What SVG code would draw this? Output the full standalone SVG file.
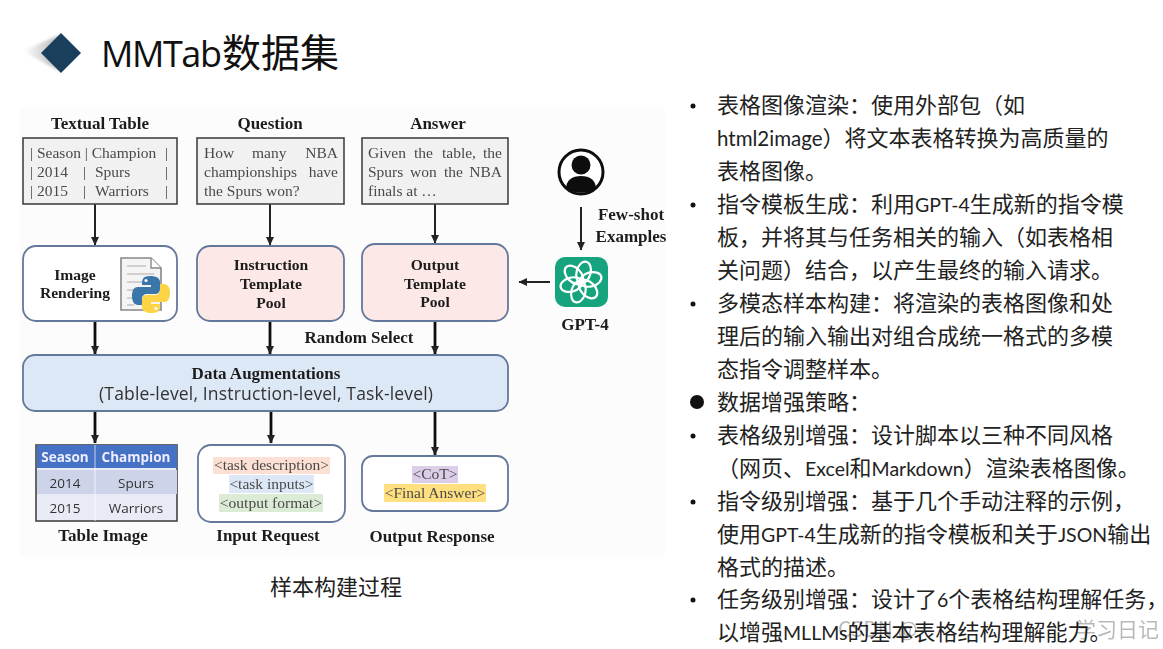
<svg xmlns="http://www.w3.org/2000/svg" width="1163" height="649" viewBox="0 0 1163 649">
<style>
.s{font-family:"Liberation Serif","Noto Sans CJK SC",serif;font-size:15.5px;fill:#4a4a4a}
.b{font-family:"Liberation Serif","Noto Sans CJK SC",serif;font-size:17px;font-weight:700;fill:#1c1c1c;text-anchor:middle}
.n{font-size:15.6px}
.m{font-family:"Noto Sans CJK SC","Noto Sans",sans-serif;fill:#222;font-size:22px}
.l{font-family:"Lato","Noto Sans",sans-serif;font-size:19.5px}
.box{fill:#f1f1f1;stroke:#444;stroke-width:1.6}
.rr{stroke:#64789a;stroke-width:1.8}
.c{stroke:#222;stroke-width:2;fill:none;marker-end:url(#a)}
.h{stroke:#111;stroke-width:2.8;fill:none;marker-end:url(#a)}
.t{text-anchor:middle;font-family:"Open Sans","Liberation Sans",sans-serif;font-size:13.5px}
.bu{fill:#111}
</style>
<defs>
<marker id="a" markerUnits="userSpaceOnUse" markerWidth="10" markerHeight="9" refX="8" refY="4.500" orient="auto"><path d="M0 0.5L8.500 4.500L0 8.500z" fill="#222"/></marker>
<linearGradient id="sh" x1="1" y1="0" x2="0" y2="0"><stop offset="0.2" stop-color="#c4c4c4"/><stop offset="1" stop-color="#fff"/></linearGradient>
<filter id="soft" x="0" y="0" width="100%" height="100%"><feGaussianBlur stdDeviation="0.45"/></filter>
<filter id="soft2" x="-20%" y="-20%" width="140%" height="140%"><feGaussianBlur stdDeviation="1.5"/></filter>
</defs>
<rect width="1163" height="649" fill="#fff"/>
<g id="title">
<polygon points="59,35 59,71 23,51" fill="url(#sh)" filter="url(#soft2)"/>
<polygon points="61,33 81,53 61,73 41,53" fill="#1a3f5c"/>
<text x="101" y="67" textLength="121" font-family="'Open Sans','Noto Sans CJK SC',sans-serif" font-size="36" fill="#111">MMTab</text>
<text x="222" y="67" font-family="'Noto Sans CJK SC',sans-serif" font-size="39" fill="#111">数据集</text>
</g>
<g id="figure" filter="url(#soft)">
<rect x="20" y="107" width="645" height="449" fill="#fcfcfc"/>
<g id="connectors">
<path class="c" d="M95 204V245"/><path class="c" d="M270 204V245"/><path class="c" d="M435 204V243"/>
<path class="h" d="M95 321V354"/><path class="h" d="M270 321V354"/><path class="h" d="M435 321V354"/>
<path class="h" d="M95 411V443"/><path class="h" d="M271 411V443"/><path class="h" d="M435 411V455"/>
<path class="c" d="M581 207V250"/><path class="c" d="M550 282H519"/>
</g>
<g id="textual-table">
<text class="b" x="100" y="129">Textual Table</text>
<rect class="box" x="23" y="138" width="154" height="66"/>
<text class="s" x="30" y="158">| Season | Champion</text><text class="s" x="165" y="158">|</text>
<text class="s" x="30" y="177">| 2014</text><text class="s" x="83" y="177">|</text><text class="s" x="95" y="177">Spurs</text><text class="s" x="165" y="177">|</text>
<text class="s" x="30" y="196">| 2015</text><text class="s" x="83" y="196">|</text><text class="s" x="95" y="196">Warriors</text><text class="s" x="165" y="196">|</text>
</g>
<g id="question">
<text class="b" x="270" y="129">Question</text>
<rect class="box" x="197" y="138" width="147" height="66"/>
<text class="s" x="204" y="158">How</text><text class="s" x="252" y="158">many</text><text class="s" x="338" y="158" text-anchor="end">NBA</text>
<text class="s" x="204" y="177">championships</text><text class="s" x="338" y="177" text-anchor="end">have</text>
<text class="s" x="204" y="196">the Spurs won?</text>
</g>
<g id="answer">
<text class="b" x="438" y="129">Answer</text>
<rect class="box" x="362" y="138" width="146" height="66"/>
<text class="s" x="368" y="158">Given</text><text class="s" x="414" y="158">the</text><text class="s" x="442" y="158">table,</text><text class="s" x="502" y="158" text-anchor="end">the</text>
<text class="s" x="368" y="177">Spurs</text><text class="s" x="410" y="177">won</text><text class="s" x="444" y="177">the</text><text class="s" x="502" y="177" text-anchor="end">NBA</text>
<text class="s" x="368" y="196">finals at …</text>
</g>
<g id="image-rendering">
<rect class="rr" x="23" y="246" width="154" height="75" rx="13" fill="#fff"/>
<text class="b n" x="75" y="280">Image</text><text class="b n" x="75" y="298">Rendering</text>
<path d="M121 258H151L161 268V310H121z" fill="#f4f4f4" stroke="#888" stroke-width="1.6"/>
<path d="M151 258V268H161" fill="#fff" stroke="#888" stroke-width="1.4"/>
<path d="M127 266H146M127 274H154M127 282H150M127 290H134M127 298H134M127 305H134" stroke="#c4c4c4" stroke-width="1.5"/>
<path d="M150 276C142 276 142 280 142 285H151V287H138C133 287 132 292 132 296C132 301 134 305 138 305H142V299C142 296 144 294 147 294H155C158 294 160 292 160 289V282C160 278 156 276 150 276z" fill="#3a76a8"/>
<path d="M152 313C160 313 160 309 160 304H151V302H164C169 302 170 297 170 293C170 288 168 284 164 284H160V290C160 293 158 295 155 295H147C144 295 142 297 142 300V307C142 311 146 313 152 313z" fill="#fdd444"/>
<circle cx="146" cy="280.500" r="1.500" fill="#fff"/><circle cx="156" cy="308.500" r="1.500" fill="#fff"/>
</g>
<g id="instruction-pool">
<rect class="rr" x="197" y="246" width="147" height="75" rx="13" fill="#fde8e8"/>
<text class="b n" x="271" y="270">Instruction</text><text class="b n" x="271" y="289">Template</text><text class="b n" x="271" y="308">Pool</text>
</g>
<g id="output-pool">
<rect class="rr" x="362" y="244" width="146" height="77" rx="13" fill="#fde8e8"/>
<text class="b n" x="435" y="270">Output</text><text class="b n" x="435" y="289">Template</text><text class="b n" x="435" y="307">Pool</text>
</g>
<g id="user-icon">
<circle cx="581" cy="172" r="22" fill="#fff" stroke="#111" stroke-width="3"/>
<circle cx="581" cy="165" r="9.500" fill="#111"/>
<path d="M566 189C566 180 572 176 581 176C590 176 596 180 596 189C587 194 575 194 566 189z" fill="#111"/>
<text class="b" x="631" y="220">Few-shot</text><text class="b" x="631" y="242">Examples</text>
</g>
<g id="gpt4">
<rect x="555" y="257" width="53" height="50" rx="10" fill="#12a47e"/>
<g fill="none" stroke="#fff" stroke-width="2.200">
<ellipse cx="581" cy="272" rx="7" ry="11" transform="rotate(15 581 282)"/>
<ellipse cx="581" cy="272" rx="7" ry="11" transform="rotate(75 581 282)"/>
<ellipse cx="581" cy="272" rx="7" ry="11" transform="rotate(135 581 282)"/>
<ellipse cx="581" cy="272" rx="7" ry="11" transform="rotate(195 581 282)"/>
<ellipse cx="581" cy="272" rx="7" ry="11" transform="rotate(255 581 282)"/>
<ellipse cx="581" cy="272" rx="7" ry="11" transform="rotate(315 581 282)"/>
</g>
<text class="b" x="585" y="330">GPT-4</text>
</g>
<text class="b" x="359" y="343">Random Select</text>
<g id="data-augmentations">
<rect class="rr" x="23" y="355" width="485" height="56" rx="12" fill="#dce8f5"/>
<text class="b" x="266" y="379">Data Augmentations</text>
<text x="266" y="400" text-anchor="middle" textLength="334" font-family="'Open Sans','Noto Sans',sans-serif" font-size="17.500" fill="#333">(Table-level, Instruction-level, Task-level)</text>
</g>
<g id="table-image">
<rect x="36" y="445" width="141" height="76" fill="#e8ebf5" stroke="#444" stroke-width="1.6"/>
<rect x="37" y="445" width="140" height="23" fill="#4472c4"/>
<rect x="37" y="470" width="140" height="24" fill="#cdd4ea"/>
<path d="M95 445V521" stroke="#fff" stroke-width="1" opacity=".7"/>
<text class="t" x="65" y="462" fill="#eef" font-weight="700">Season</text><text class="t" x="136" y="462" fill="#eef" font-weight="700">Champion</text>
<text class="t" x="65" y="488" fill="#333">2014</text><text class="t" x="136" y="488" fill="#333">Spurs</text>
<text class="t" x="65" y="513" fill="#333">2015</text><text class="t" x="136" y="513" fill="#333">Warriors</text>
<text class="b" x="103" y="541">Table Image</text>
</g>
<g id="input-request">
<rect class="rr" x="198" y="445" width="147" height="77" rx="13" fill="#fff"/>
<rect x="213" y="457" width="117" height="17" fill="#fbe0d3"/><rect x="229" y="475" width="85" height="18" fill="#dde8f6"/><rect x="219" y="494" width="104" height="18" fill="#dcebd5"/>
<text class="s" x="271.500" y="470" text-anchor="middle">&lt;task description&gt;</text>
<text class="s" x="271.500" y="489" text-anchor="middle">&lt;task inputs&gt;</text>
<text class="s" x="271" y="508" text-anchor="middle">&lt;output format&gt;</text>
<text class="b" x="268" y="541">Input Request</text>
</g>
<g id="output-response">
<rect class="rr" x="362" y="456" width="146" height="55" rx="11" fill="#fff"/>
<rect x="412" y="466" width="46" height="17" fill="#dccde8"/><rect x="384" y="484" width="102" height="18" fill="#ffdf80"/>
<text class="s" x="435" y="479" text-anchor="middle">&lt;CoT&gt;</text>
<text class="s" x="435" y="498" text-anchor="middle">&lt;Final Answer&gt;</text>
<text class="b" x="432" y="542">Output Response</text>
</g>
</g>
<text class="m" x="270" y="595">样本构建过程</text>
<g id="notes">
<circle class="bu" cx="693" cy="106" r="2.500"/><circle class="bu" cx="693" cy="205" r="2.500"/><circle class="bu" cx="693" cy="304" r="2.500"/><circle class="bu" cx="697" cy="402" r="7"/><circle class="bu" cx="693" cy="436" r="2.500"/><circle class="bu" cx="693" cy="502" r="2.500"/><circle class="bu" cx="693" cy="600" r="2.500"/>
<text class="m" x="717" y="113">表格图像渲染：使用外部包（如</text>
<text class="m" x="717" y="146"><tspan class="l" style="font-size:20.5px">html2image</tspan>）将文本表格转换为高质量的</text>
<text class="m" x="717" y="179">表格图像。</text>
<text class="m" x="717" y="212">指令模板生成：利用<tspan class="l">GPT-4</tspan>生成新的指令模</text>
<text class="m" x="717" y="245">板，并将其与任务相关的输入（如表格相</text>
<text class="m" x="717" y="278">关问题）结合，以产生最终的输入请求。</text>
<text class="m" x="717" y="311">多模态样本构建：将渲染的表格图像和处</text>
<text class="m" x="717" y="344">理后的输入输出对组合成统一格式的多模</text>
<text class="m" x="717" y="377">态指令调整样本。</text>
<text class="m" x="717" y="410">数据增强策略：</text>
<text class="m" x="717" y="443">表格级别增强：设计脚本以三种不同风格</text>
<text class="m" x="717" y="476">（网页、<tspan class="l">Excel</tspan>和<tspan class="l">Markdown</tspan>）渲染表格图像。</text>
<text class="m" x="717" y="509">指令级别增强：基于几个手动注释的示例，</text>
<text class="m" x="717" y="542">使用<tspan class="l">GPT-4</tspan>生成新的指令模板和关于<tspan class="l">JSON</tspan>输出</text>
<text class="m" x="717" y="575">格式的描述。</text>
<text class="m" x="717" y="607">任务级别增强：设计了<tspan class="l">6</tspan>个表格结构理解任务，</text>
<text class="m" x="717" y="640">以增强<tspan class="l">MLLMs</tspan>的基本表格结构理解能力。</text>
</g>
<g id="watermark" font-family="'Noto Sans CJK SC',sans-serif" font-size="21px" fill="#000" opacity=".28">
<text x="838" y="637">CSDN @</text><text x="1075" y="637">学习日记</text>
</g>
</svg>
